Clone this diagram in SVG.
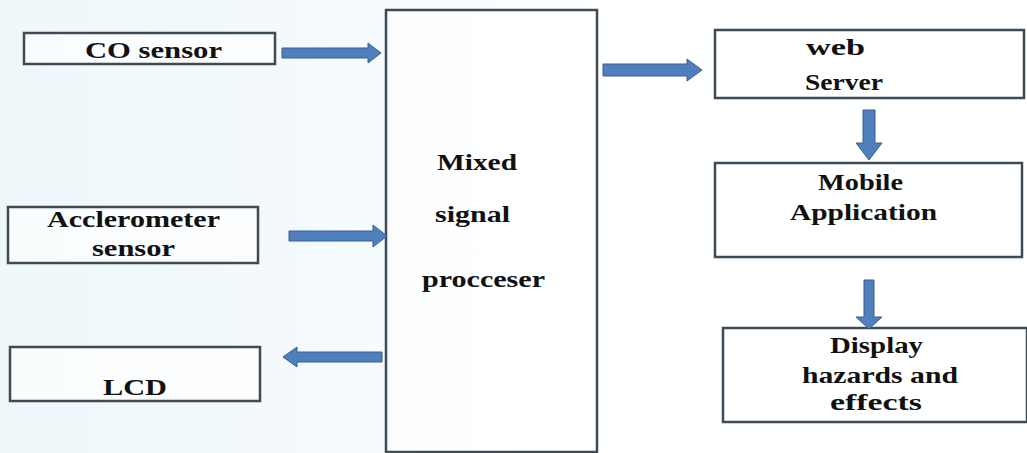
<svg xmlns="http://www.w3.org/2000/svg" width="1027" height="453" viewBox="0 0 1027 453">
<defs>
<linearGradient id="bg" x1="0" y1="0" x2="1" y2="0">
<stop offset="0" stop-color="#eef7fa"/>
<stop offset="0.38" stop-color="#f6fbfc"/>
<stop offset="0.6" stop-color="#ffffff"/>
<stop offset="1" stop-color="#ffffff"/>
</linearGradient>
<style>
.box{fill:#ffffff;fill-opacity:0.7;stroke:#3e4a54;stroke-width:2.5}
.arr{fill:#4f7fbc;stroke:#3a5f8e;stroke-width:1}
.t{font-family:'Liberation Serif',Tinos,'Noto Serif','DejaVu Serif',FreeSerif,'Times New Roman',Times,serif;font-weight:700;font-size:24px;fill:#111111}
</style>
</defs>
<rect x="0" y="0" width="1027" height="453" fill="url(#bg)"/>
<g id="co-sensor">
<rect class="box" x="24" y="33" width="251" height="31"/>
<text class="t" x="85" y="58" textLength="137" lengthAdjust="spacingAndGlyphs">CO sensor</text>
</g>
<g id="accelerometer">
<rect class="box" x="8" y="207" width="250" height="56"/>
<text class="t" x="47" y="227" textLength="173" lengthAdjust="spacingAndGlyphs">Acclerometer</text>
<text class="t" x="92" y="256" textLength="83" lengthAdjust="spacingAndGlyphs">sensor</text>
</g>
<g id="lcd">
<rect class="box" x="10" y="347" width="250" height="54"/>
<text class="t" x="103" y="395" textLength="64" lengthAdjust="spacingAndGlyphs">LCD</text>
</g>
<g id="processor">
<rect class="box" x="386" y="10" width="211" height="442"/>
<text class="t" x="437" y="170" textLength="80" lengthAdjust="spacingAndGlyphs">Mixed</text>
<text class="t" x="435" y="222" textLength="75" lengthAdjust="spacingAndGlyphs">signal</text>
<text class="t" x="422" y="287" textLength="123" lengthAdjust="spacingAndGlyphs">procceser</text>
</g>
<g id="web-server">
<rect class="box" x="715" y="30" width="309" height="68"/>
<text class="t" x="806" y="55" textLength="59" lengthAdjust="spacingAndGlyphs">web</text>
<text class="t" x="805" y="90" textLength="78" lengthAdjust="spacingAndGlyphs">Server</text>
</g>
<g id="mobile-app">
<rect class="box" x="715" y="163" width="307" height="94"/>
<text class="t" x="818" y="190" textLength="85" lengthAdjust="spacingAndGlyphs">Mobile</text>
<text class="t" x="790" y="220" textLength="147" lengthAdjust="spacingAndGlyphs">Application</text>
</g>
<g id="display">
<rect class="box" x="723" y="328" width="304" height="94"/>
<text class="t" x="830" y="353" textLength="93" lengthAdjust="spacingAndGlyphs">Display</text>
<text class="t" x="802" y="383" textLength="156" lengthAdjust="spacingAndGlyphs">hazards and</text>
<text class="t" x="830" y="410" textLength="92" lengthAdjust="spacingAndGlyphs">effects</text>
</g>
<g id="connectors">
<polygon class="arr" points="282,48 368,48 368,43 381,53 368,63 368,58 282,58"/>
<polygon class="arr" points="289,231 373,231 373,225 387,236 373,247 373,241 289,241"/>
<polygon class="arr" points="382,352 297,352 297,347 283,357 297,367 297,362 382,362"/>
<polygon class="arr" points="603,64 687,64 687,59 702,70 687,81 687,76 603,76"/>
<polygon class="arr" points="863,110 875,110 875,143 882,143 869,160 856,143 863,143"/>
<polygon class="arr" points="864,280 874,280 874,317 882,317 869,329 856,317 864,317"/>
</g>
</svg>
